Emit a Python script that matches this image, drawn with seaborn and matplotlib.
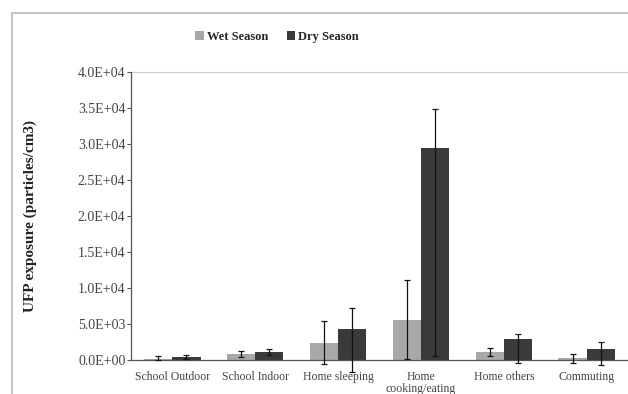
import matplotlib
matplotlib.use("Agg")
import matplotlib.pyplot as plt
from matplotlib.patches import Patch
from matplotlib.lines import Line2D
import numpy as np
import pandas as pd
import seaborn as sns

categories = ["School Outdoor", "School Indoor", "Home sleeping",
              "Home\ncooking/eating", "Home others", "Commuting"]
seasons = ["Wet Season", "Dry Season"]

wet_mean = [200, 800, 2400, 5500, 1100, 250]
dry_mean = [450, 1100, 4300, 29400, 2950, 1550]

# custom (asymmetric) error bars
wet_err_lo = [200, 400, 2900, 5400, 500, 700]
wet_err_hi = [300, 400, 2950, 5600, 550, 650]
dry_err_lo = [300, 400, 5900, 28900, 3300, 2200]
dry_err_hi = [300, 400, 2950, 5400, 650, 950]

wet_color = "#a8a8a8"
dry_color = "#3a3a3a"

sns.set_theme(style="white")
plt.rcParams["font.family"] = ["Liberation Serif", "DejaVu Serif"]

df = pd.DataFrame({
    "Activity": categories * 2,
    "Season": [seasons[0]] * 6 + [seasons[1]] * 6,
    "UFP": wet_mean + dry_mean,
})

fig = plt.figure(figsize=(6.28, 3.94), dpi=100)
ax = fig.add_axes([131 / 628, 1 - 360 / 394, 497 / 628, 288 / 394])

sns.barplot(data=df, x="Activity", y="UFP", hue="Season", order=categories,
            hue_order=seasons, palette=[wet_color, dry_color], width=0.68,
            gap=0, errorbar=None, ax=ax, legend=False, linewidth=0)

# error bars at bar centres
n = len(categories)
bars = ax.patches[:2 * n]
centers = [b.get_x() + b.get_width() / 2 for b in bars]
ax.errorbar(centers[:n], wet_mean, yerr=[wet_err_lo, wet_err_hi], fmt="none",
            ecolor="#111111", elinewidth=0.9, capsize=2.5, capthick=0.9, zorder=5,
            clip_on=False)
ax.errorbar(centers[n:], dry_mean, yerr=[dry_err_lo, dry_err_hi], fmt="none",
            ecolor="#111111", elinewidth=0.9, capsize=2.5, capthick=0.9, zorder=5,
            clip_on=False)

ax.set_ylim(0, 40000)
ax.set_xlim(-0.5, n - 0.5)
yt = np.arange(0, 40001, 5000)
ax.set_yticks(yt)
ax.set_yticklabels(["%.1E" % v for v in yt], fontsize=10, color="#444444")
ax.set_xticks(range(n))
ax.set_xticklabels(categories, fontsize=8.5, color="#444444", linespacing=0.95)
ax.set_xticks(np.arange(0.5, n - 0.5, 1), minor=True)
ax.tick_params(axis="x", which="major", length=0, pad=8)
ax.tick_params(axis="x", which="minor", length=5, width=0.8, color="#555555",
               direction="out")
ax.tick_params(axis="y", which="major", length=3, width=0.8, color="#555555",
               direction="out", left=True, pad=1)

ax.set_xlabel("")
ax.set_ylabel("UFP exposure (particles/cm3)", fontsize=11, fontweight="bold",
              color="#222222")
ax.yaxis.set_label_coords((37 - 131) / 497, 0.5)

for side in ["top", "right"]:
    ax.spines[side].set_visible(False)
ax.spines["left"].set_color("#555555")
ax.spines["bottom"].set_color("#555555")
ax.spines["left"].set_linewidth(0.9)
ax.spines["bottom"].set_linewidth(0.9)

# single light gridline at the top of the scale
ax.axhline(40000, color="#cccccc", lw=0.8, zorder=0, clip_on=False)

# outer chart frame (only top and left visible in the crop)
fig.add_artist(Line2D([12 / 628, 1], [1 - 13 / 394, 1 - 13 / 394],
                      transform=fig.transFigure, color="#bbbbbb", lw=1.2))
fig.add_artist(Line2D([12 / 628, 12 / 628], [0, 1 - 13 / 394],
                      transform=fig.transFigure, color="#bbbbbb", lw=1.2))

handles = [Patch(facecolor=wet_color, edgecolor="none", label=seasons[0]),
           Patch(facecolor=dry_color, edgecolor="none", label=seasons[1])]
fig.legend(handles=handles, loc="center", bbox_to_anchor=(277 / 628, 1 - 37 / 394),
           ncol=2, frameon=False, prop={"weight": "bold", "size": 9},
           handlelength=0.7, handleheight=0.7, handletextpad=0.2,
           columnspacing=1.5)

fig.savefig("out.png", dpi=100)
